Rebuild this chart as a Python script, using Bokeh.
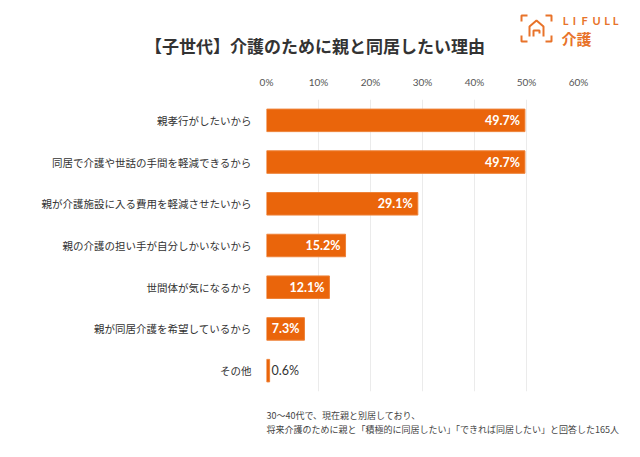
from bokeh.plotting import figure
from bokeh.models import (FactorRange, Range1d, FixedTicker, PrintfTickFormatter,
                          ColumnDataSource)
from bokeh.core.properties import value
from bokeh.embed import file_html
from bokeh.resources import INLINE

# ---- data ----
title_text = "【子世代】介護のために親と同居したい理由"
categories = [
    "親孝行がしたいから",
    "同居で介護や世話の手間を軽減できるから",
    "親が介護施設に入る費用を軽減させたいから",
    "親の介護の担い手が自分しかいないから",
    "世間体が気になるから",
    "親が同居介護を希望しているから",
    "その他",
]
values = [49.7, 49.7, 29.1, 15.2, 12.1, 7.3, 0.6]
value_labels = ["49.7%", "49.7%", "29.1%", "15.2%", "12.1%", "7.3%", "0.6%"]
x_ticks = [0, 10, 20, 30, 40, 50, 60]
note_lines = [
    "30～40代で、現在親と別居しており、",
    "将来介護のために親と「積極的に同居したい」「できれば同居したい」と回答した165人",
]

ORANGE = "#EA650B"
LOGO = "#E8732A"
JP = "Noto Sans CJK JP"
NUM = "Lato"
W = 624
HEAD_H, MAIN_H, FOOT_H = 60, 340, 41


def blank(h):
    f = figure(width=W, height=h, x_range=Range1d(0, W), y_range=Range1d(h, 0),
               x_axis_type=None, y_axis_type=None, output_backend="svg",
               toolbar_location=None, min_border=0)
    f.outline_line_color = None
    f.grid.visible = False
    return f


# ---- header: title + logo ----
head = blank(HEAD_H)
head.text(x=[314.5], y=[45], text=[title_text], text_align="center",
          text_baseline="middle", text_font=value(JP), text_font_size="17px",
          text_font_style="bold", text_color="#333333")
# logo wordmark, letter-spaced
head.text(x=[565, 574, 584, 596, 606.5, 615], y=[20] * 6,
          text=["L", "I", "F", "U", "L", "L"], text_align="center",
          text_baseline="middle", text_font=value("Lato"), text_font_size="11px",
          text_font_style="bold", text_color=LOGO)
head.text(x=[561], y=[37.5], text=["介護"], text_align="left",
          text_baseline="middle", text_font=value(JP), text_font_size="15px",
          text_font_style="bold", text_color=LOGO)
x0, x1, y0, y1, a = 521, 551, 15, 41, 6
head.multi_line(
    xs=[[x0, x0, x0 + a], [x1 - a, x1, x1], [x0, x0, x0 + a], [x1 - a, x1, x1]],
    ys=[[y0 + a, y0, y0], [y0, y0, y0 + a], [y1 - a, y1, y1], [y1, y1, y1 - a]],
    line_color=LOGO, line_width=2)
head.line(x=[529, 529, 536, 543, 543], y=[36, 26, 20, 26, 36],
          line_color=LOGO, line_width=2)
head.line(x=[533, 533, 539, 539], y=[36, 30, 30, 33],
          line_color=LOGO, line_width=2)

# ---- main chart ----
p = figure(
    width=W, height=MAIN_H,
    y_range=FactorRange(*reversed(categories)),
    x_range=Range1d(0, 60),
    x_axis_location="above",
    output_backend="svg", toolbar_location=None,
    min_border_left=266, min_border_right=46,
    min_border_top=39, min_border_bottom=9,
)
p.outline_line_color = None

p.hbar(y=categories, right=values, left=0, height=0.54,
       fill_color=ORANGE, line_color="#EE8238", line_width=1)

inside = [i for i, v in enumerate(values) if v >= 5]
outside = [i for i, v in enumerate(values) if v < 5]
src_in = ColumnDataSource(dict(x=[values[i] for i in inside],
                               y=[categories[i] for i in inside],
                               t=[value_labels[i] for i in inside]))
src_out = ColumnDataSource(dict(x=[values[i] for i in outside],
                                y=[categories[i] for i in outside],
                                t=[value_labels[i] for i in outside]))
p.text(x="x", y="y", text="t", source=src_in, x_offset=-5,
       text_align="right", text_baseline="middle", text_color="white",
       text_font=value(NUM), text_font_size="12.5px", text_font_style="bold")
p.text(x="x", y="y", text="t", source=src_out, x_offset=2,
       text_align="left", text_baseline="middle", text_color="#333333",
       text_font=value(NUM), text_font_size="12.5px")

p.xaxis.ticker = FixedTicker(ticks=x_ticks)
p.xaxis.formatter = PrintfTickFormatter(format="%d%%")
p.xaxis.axis_line_color = None
p.xaxis.major_tick_line_color = None
p.xaxis.minor_tick_line_color = None
p.xaxis.major_label_standoff = 6
p.xaxis.major_label_text_font = NUM
p.xaxis.major_label_text_font_size = "10px"
p.xaxis.major_label_text_color = "#555555"

p.yaxis.axis_line_color = None
p.yaxis.major_tick_line_color = None
p.yaxis.minor_tick_line_color = None
p.yaxis.major_label_standoff = 9
p.yaxis.major_label_text_font = JP
p.yaxis.major_label_text_font_size = "10.5px"
p.yaxis.major_label_text_color = "#333333"

p.xgrid.grid_line_color = "#EBEBEB"
p.ygrid.grid_line_color = None

# ---- footer: note ----
foot = blank(FOOT_H)
foot.text(x=[266, 266], y=[15, 29], text=note_lines, text_align="left",
          text_baseline="middle", text_font=value(JP), text_font_size="9px",
          text_color="#444444")

# three independent roots stacked on the page (no frame alignment between them)
open("out.html", "w").write(file_html([head, p, foot], INLINE))
